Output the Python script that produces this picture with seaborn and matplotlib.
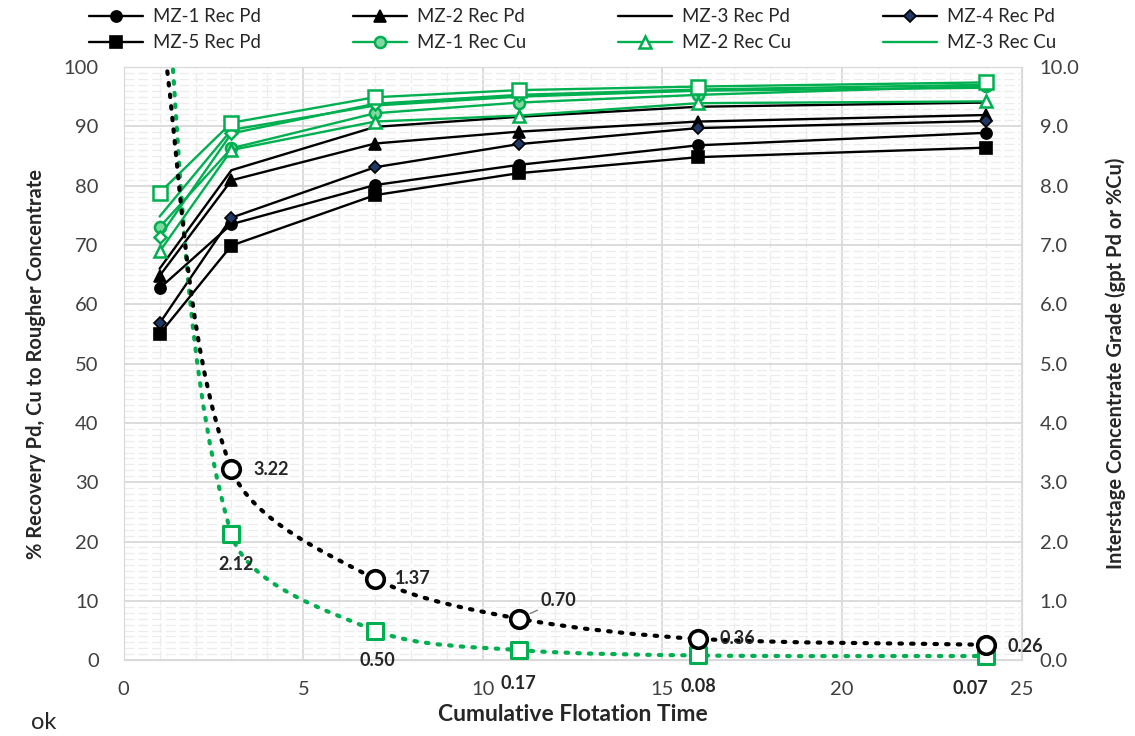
import matplotlib
matplotlib.use("Agg")
import numpy as np
import matplotlib.pyplot as plt
import matplotlib.ticker as mticker
from matplotlib.path import Path
from matplotlib.patches import PathPatch
import seaborn as sns

# ── Data ─────────────────────────────────────────────────────────────────────
TIME = [1, 3, 7, 11, 16, 24]

PD_REC = {
    "MZ-1": [62.7, 73.5, 80.1, 83.5, 86.8, 88.9],
    "MZ-2": [64.8, 80.9, 87.1, 89.1, 90.8, 91.9],
    "MZ-3": [66.0, 82.6, 89.9, 91.6, 93.3, 94.0],
    "MZ-4": [56.8, 74.6, 83.1, 87.0, 89.7, 90.9],
    "MZ-5": [55.0, 69.9, 78.4, 82.1, 84.8, 86.4],
}
CU_REC = {
    "MZ-1": [73.0, 86.3, 92.2, 94.0, 95.3, 96.8],
    "MZ-2": [68.9, 86.0, 90.8, 91.8, 93.9, 94.2],
    "MZ-3": [74.8, 89.4, 93.5, 95.0, 96.0, 96.5],
    "MZ-4": [71.4, 88.8, 93.8, 95.3, 96.2, 97.0],
    "MZ-5": [78.8, 90.6, 94.9, 96.1, 96.7, 97.4],
}
# interstage concentrate grade (first point is above the axis limit)
GRADE_PD = [10.9, 3.22, 1.37, 0.70, 0.36, 0.26]
GRADE_CU = [12.7, 2.12, 0.50, 0.17, 0.08, 0.07]

GREEN = "#00B050"
FONT = ["Lato", "DejaVu Sans"]

sns.set_style("white")
plt.rcParams["font.family"] = FONT

fig = plt.figure(figsize=(11.35, 7.36), dpi=100)
ax = fig.add_axes([0.109, 0.103, 0.791, 0.806])
ax2 = ax.twinx()
ax.set_xlim(0, 25)
ax.set_ylim(0, 100)
ax2.set_ylim(0, 10)


def smooth_path(a, xs, ys, k=0.3):
    """Excel-like smoothed line: cubic Bezier segments built in screen space."""
    P = a.transData.transform(np.column_stack([xs, ys]))
    n = len(P)
    tang = []
    for i in range(n):
        d = P[min(i + 1, n - 1)] - P[max(i - 1, 0)]
        tang.append(d / np.hypot(*d))
    verts, codes = [P[0]], [Path.MOVETO]
    for i in range(n - 1):
        L = np.hypot(*(P[i + 1] - P[i]))
        verts += [P[i] + tang[i] * L * k, P[i + 1] - tang[i + 1] * L * k, P[i + 1]]
        codes += [Path.CURVE4] * 3
    inv = a.transData.inverted()
    return Path(inv.transform(np.array(verts)), codes)


# ── Recovery lines ───────────────────────────────────────────────────────────
pd_style = {
    "MZ-1": dict(marker="o", markerfacecolor="black", markeredgecolor="black"),
    "MZ-2": dict(marker="^", markerfacecolor="black", markeredgecolor="black"),
    "MZ-3": dict(marker=None),
    "MZ-4": dict(marker="D", markerfacecolor="#1F3864", markeredgecolor="black", markersize=6.5),
    "MZ-5": dict(marker="s", markerfacecolor="black", markeredgecolor="black"),
}
cu_style = {
    "MZ-1": dict(marker="o", markerfacecolor="#7fd8a0", markeredgecolor=GREEN),
    "MZ-2": dict(marker="^", markerfacecolor="white", markeredgecolor=GREEN),
    "MZ-3": dict(marker=None),
    "MZ-4": dict(marker="D", markerfacecolor="white", markeredgecolor=GREEN, markersize=6.5),
    "MZ-5": dict(marker="s", markerfacecolor="white", markeredgecolor=GREEN, markersize=10.5),
}

handles = {}
for name, vals in PD_REC.items():
    kw = dict(markersize=8, markeredgewidth=1.2)
    kw.update(pd_style[name])
    sns.lineplot(x=TIME, y=vals, ax=ax, color="black", linewidth=1.7, **kw)
    handles[f"{name} Rec Pd"] = ax.lines[-1]
for name, vals in CU_REC.items():
    kw = dict(markersize=8, markeredgewidth=1.8)
    kw.update(cu_style[name])
    sns.lineplot(x=TIME, y=vals, ax=ax, color=GREEN, linewidth=1.7, **kw)
    handles[f"{name} Rec Cu"] = ax.lines[-1]

# ── Grade curves (secondary axis) ────────────────────────────────────────────
for vals, col in [(GRADE_CU, GREEN), (GRADE_PD, "black")]:
    ax2.add_patch(PathPatch(smooth_path(ax2, TIME, vals), facecolor="none", edgecolor=col,
                            linewidth=3, linestyle=(0, (0.6, 2.2)), capstyle="round",
                            zorder=3))
sns.scatterplot(x=TIME[1:], y=GRADE_CU[1:], ax=ax2, marker="s", s=140, color="white",
                edgecolor=GREEN, linewidth=2.2, zorder=4, clip_on=False)
sns.scatterplot(x=TIME[1:], y=GRADE_PD[1:], ax=ax2, marker="o", s=160, color="white",
                edgecolor="black", linewidth=2.6, zorder=5, clip_on=False)

# data labels (offsets in pixels)
pd_off = [None, (22, 0), (20, 0), (22, 18), (21, 0), (22, -2)]
cu_off = [None, (5, -30), (2, -30), (0, -33), (0, -31), (-15, -32)]
for x, v, off in zip(TIME, GRADE_PD, pd_off):
    if off is None:
        continue
    arrow = dict(arrowstyle="-", color="#7f7f7f", lw=1,
                 shrinkA=0, shrinkB=9) if off[1] > 10 else None
    ax2.annotate(f"{v:.2f}", (x, v), xytext=off, textcoords="offset pixels",
                 ha="left", va="center", fontsize=13, fontweight="bold",
                 arrowprops=arrow, annotation_clip=False, zorder=6)
for x, v, off in zip(TIME, GRADE_CU, cu_off):
    if off is None:
        continue
    ax2.annotate(f"{v:.2f}", (x, v), xytext=off, textcoords="offset pixels",
                 ha="center", va="center", fontsize=13, fontweight="bold",
                 annotation_clip=False, zorder=6)

# ── Axes styling ─────────────────────────────────────────────────────────────
ax.xaxis.set_major_locator(mticker.MultipleLocator(5))
ax.xaxis.set_minor_locator(mticker.MultipleLocator(1))
ax.yaxis.set_major_locator(mticker.MultipleLocator(10))
ax.yaxis.set_minor_locator(mticker.MultipleLocator(1))
ax2.yaxis.set_major_locator(mticker.MultipleLocator(1))
ax2.yaxis.set_major_formatter(mticker.FormatStrFormatter("%.1f"))

ax.grid(which="major", color="#d9d9d9", linewidth=1.3)
ax.grid(which="minor", color="#ececec", linewidth=0.9, linestyle=(0, (8, 3)))
ax.set_axisbelow(True)
for a in (ax, ax2):
    for sp in a.spines.values():
        sp.set_color("#d9d9d9")
    a.tick_params(which="both", length=0, labelsize=14.5, labelcolor="#404040")
ax.tick_params(axis="x", pad=15)
ax.tick_params(axis="y", pad=18)
ax2.tick_params(axis="y", pad=13)

ax.set_xlabel("Cumulative Flotation Time", fontsize=16.5, fontweight="bold", labelpad=4)
ax.set_ylabel("% Recovery Pd, Cu to Rougher Concentrate", fontsize=14.5,
              fontweight="bold", labelpad=13)
ax2.set_ylabel("Interstage Concentrate Grade (gpt Pd or %Cu)", fontsize=14.5,
               fontweight="bold", labelpad=19)

order = ["MZ-1 Rec Pd", "MZ-5 Rec Pd", "MZ-2 Rec Pd", "MZ-1 Rec Cu",
         "MZ-3 Rec Pd", "MZ-2 Rec Cu", "MZ-4 Rec Pd", "MZ-3 Rec Cu"]
fig.legend([handles[k] for k in order], order, ncol=4, frameon=False,
           fontsize=13.4, handlelength=2.9, handletextpad=0.55, mode="expand",
           bbox_to_anchor=(0.072, 0.92, 0.865, 0.077), loc="lower left",
           borderaxespad=0, labelspacing=0.5)

fig.text(0.027, 0.01, "ok", fontsize=17)

fig.savefig("out.png", dpi=100)
